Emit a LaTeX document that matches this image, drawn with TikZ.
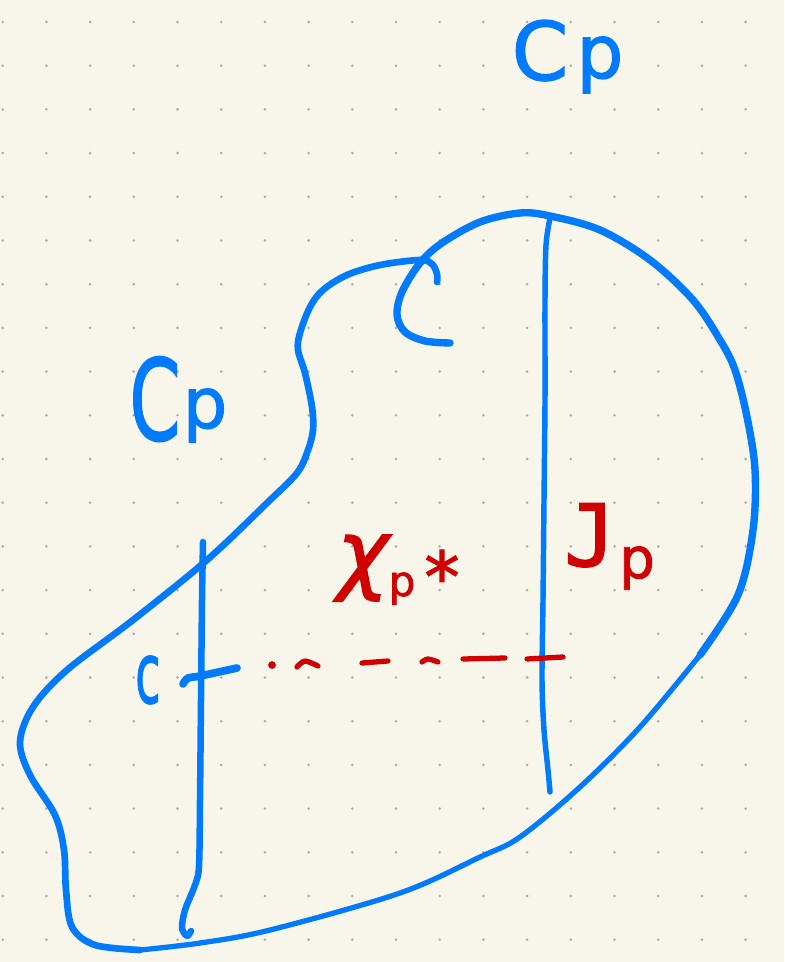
\documentclass[tikz,border=0pt]{standalone}
\usepackage{fontspec}
\usepackage{graphicx}
\newfontfamily\handfont[FakeBold=1.6]{DejaVu Sans}
\newfontfamily\handmono[FakeBold=1.6]{DejaVu Sans Mono}
\usetikzlibrary{calc}
\definecolor{paper}{RGB}{248,246,234}
\definecolor{gridDot}{RGB}{172,170,162}
\definecolor{inkBlue}{RGB}{0,122,255}
\definecolor{inkRed}{RGB}{208,0,0}
\tikzset{
  ink/.style={line cap=round,line join=round},
  blueink/.style={ink,draw=inkBlue},
  redink/.style={ink,draw=inkRed,line width=3pt},
  lbl/.style={inner sep=0pt,anchor=base},
  bluelbl/.style={lbl,text=inkBlue},
  redlbl/.style={lbl,text=inkRed},
}
\newcommand{\fsz}[1]{\fontsize{#1}{#1}\selectfont}

\begin{document}
\begin{tikzpicture}[x=0.02cm,y=-0.02cm]
  \fill[paper] (0,0) rectangle (784,962);
  \useasboundingbox (0,0) rectangle (784,962);
  % dot grid
  \foreach \i in {0,...,17}
    \foreach \j in {0,...,21}
      \fill[gridDot] (2.7+43.7*\i,22+43.7*\j) circle[radius=0.8pt];

  % outline, upper right part
  \draw[blueink,line width=4.2pt] plot[smooth,tension=0.55] coordinates {
    (450,343) (425,341) (405,332) (397,315) (402,292) (420,263) (442,243)
    (480,222) (520,213) (550,216) (600,230) (650,260) (693,300) (720,340)
    (735,370) (747,417) (755,470) (753,530) (738,595) (700,655)};
  % outline, bottom part
  \draw[blueink,line width=3pt] plot[smooth,tension=0.55] coordinates {
    (700,655) (640,727) (580,787) (520,837) (480,857) (400,893) (270,930)
    (200,943) (140,950)};
  % outline, left part
  \draw[blueink,line width=3.8pt] plot[smooth,tension=0.55] coordinates {
    (140,950) (95,945) (72,927) (66,890) (64,850) (55,815) (30,775) (20,742)
    (33,707) (67,670) (133,620) (207,560) (267,503) (297,473) (308,450)
    (313,430) (312,407) (305,373) (298,350) (300,333) (310,307) (323,290)
    (347,275) (380,265) (420,260) (432,264) (437,274) (437,282)};

  % vertical chords
  \draw[blueink,line width=3.1pt] plot[smooth,tension=0.5] coordinates {
    (550,218) (546,245) (545,300) (545,400) (544,500) (543,600) (542,680)
    (544,730) (548,770) (550,792)};
  \draw[blueink,line width=3.7pt] plot[smooth,tension=0.5] coordinates {
    (203,542) (202,600) (201,700) (200,800) (199,866) (195,885) (185,910)
    (182,928) (187,936) (191,931)};
  \draw[blueink,line width=4.4pt] plot[smooth,tension=0.5] coordinates {
    (183,684) (188,678) (200,676) (237,668)};

  % red dashes
  \fill[inkRed] (272,665) circle[radius=2.2pt];
  \draw[redink] plot[smooth] coordinates {(297,667) (305,661) (318,666)};
  \draw[redink] (362,663) -- (388,661);
  \draw[redink] plot[smooth] coordinates {(422,662) (428,659) (438,662)};
  \draw[redink] (463,659) -- (505,658);
  \draw[redink] (527,659) -- (563,657);

  % labels
  \node[bluelbl,font=\handfont\fsz{46}] (cpTopC) at (540,80) {C};
  \node[bluelbl,font=\handfont\fsz{42}] (cpTopP) at (600,78) {p};
  \node[bluelbl,font=\handfont\fsz{64}] (cpLeftC) at (155,440) {\scalebox{0.65}[1]{C}};
  \node[bluelbl,font=\handfont\fsz{40}] (cpLeftP) at (205,428) {p};
  \node[bluelbl,font=\handfont\fsz{48}] (cLbl) at (148,703) {\scalebox{0.55}[1]{c}};
  \node[redlbl,font=\handfont\itshape\fsz{50}] (chiLbl) at (363,583) {χ};
  \node[redlbl,font=\handfont\fsz{24}] (chiP) at (402,596) {p};
  \node[redlbl,font=\handfont\fsz{40}] (chiStar) at (442,602) {*};
  \node[redlbl,font=\handmono\fsz{49}] (jLbl) at (590,566) {J};
  \node[redlbl,font=\handfont\fsz{32}] (jP) at (637,578) {p};
\end{tikzpicture}
\end{document}
